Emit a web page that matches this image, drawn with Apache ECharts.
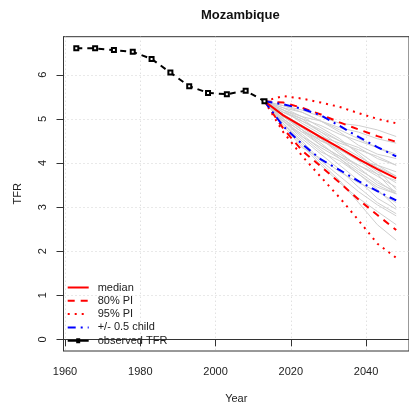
<!DOCTYPE html>
<html><head><meta charset="utf-8">
<script src="https://cdn.jsdelivr.net/npm/echarts@6/dist/echarts.min.js"></script>
<style>html,body{margin:0;padding:0;background:#fff}#c{width:409px;height:409px}</style>
</head><body><div id="c"></div>
<script>
const titleText = 'Mozambique';
const xTicks = [1960, 1980, 2000, 2020, 2040];
const yTicks = [0, 1, 2, 3, 4, 5, 6];
const obsYears = [1963, 1968, 1973, 1978, 1983, 1988, 1993, 1998, 2003, 2008, 2013];
const obsTFR = [6.60, 6.60, 6.56, 6.52, 6.36, 6.05, 5.74, 5.59, 5.56, 5.64, 5.40];
const projYears = [2013, 2018, 2023, 2028, 2033, 2038, 2043, 2048];
const median = [5.40, 5.08, 4.83, 4.58, 4.34, 4.09, 3.86, 3.65];
const lower80 = [5.40, 4.78, 4.28, 3.92, 3.55, 3.17, 2.82, 2.48];
const upper80 = [5.40, 5.37, 5.25, 5.10, 4.92, 4.76, 4.61, 4.48];
const lower95 = [5.40, 4.70, 4.16, 3.68, 3.21, 2.70, 2.17, 1.85];
const upper95 = [5.40, 5.52, 5.46, 5.37, 5.27, 5.13, 5.00, 4.90];
const halfUp = [5.40, 5.33, 5.23, 5.08, 4.84, 4.59, 4.36, 4.15];
const halfLow = [5.40, 4.83, 4.43, 4.08, 3.84, 3.59, 3.36, 3.15];
const trajectories = [
  [5.40, 5.20, 5.05, 4.95, 4.80, 4.70, 4.55, 4.45],
  [5.40, 5.10, 4.75, 4.45, 4.10, 3.80, 3.50, 3.30],
  [5.40, 4.95, 4.55, 4.20, 3.85, 3.45, 3.10, 2.85],
  [5.40, 5.25, 5.15, 4.95, 4.70, 4.40, 4.20, 4.10],
  [5.40, 5.05, 4.80, 4.50, 4.35, 4.05, 3.95, 3.80],
  [5.40, 4.90, 4.40, 3.95, 3.55, 3.20, 2.90, 2.60],
  [5.40, 5.15, 4.95, 4.75, 4.50, 4.25, 3.95, 3.70],
  [5.40, 5.00, 4.70, 4.55, 4.25, 3.90, 3.55, 3.35],
  [5.40, 5.30, 5.20, 5.05, 4.90, 4.85, 4.75, 4.60],
  [5.40, 4.85, 4.35, 4.10, 3.80, 3.55, 3.35, 3.10],
  [5.40, 5.10, 4.85, 4.60, 4.45, 4.30, 4.15, 3.95],
  [5.40, 5.00, 4.60, 4.25, 4.05, 3.75, 3.40, 3.00],
  [5.40, 5.20, 4.90, 4.65, 4.30, 4.10, 3.80, 3.55],
  [5.40, 4.95, 4.65, 4.30, 3.95, 3.60, 3.20, 2.95],
  [5.40, 5.15, 5.00, 4.85, 4.65, 4.50, 4.35, 4.20],
  [5.40, 5.05, 4.75, 4.40, 4.15, 3.95, 3.75, 3.60],
  [5.40, 4.90, 4.50, 4.05, 3.70, 3.35, 3.05, 2.80],
  [5.40, 5.25, 5.05, 4.80, 4.55, 4.20, 3.85, 3.40],
  [5.40, 5.10, 4.85, 4.55, 4.20, 3.95, 3.70, 3.45],
  [5.40, 5.00, 4.70, 4.40, 4.15, 3.85, 3.60, 3.30],
  [5.40, 5.20, 5.00, 4.70, 4.40, 4.15, 3.90, 3.70],
  [5.40, 4.95, 4.60, 4.35, 4.10, 3.75, 3.45, 3.30],
  [5.40, 5.15, 4.95, 4.70, 4.50, 4.35, 4.10, 3.95],
  [5.40, 5.05, 4.75, 4.50, 4.30, 4.05, 3.75, 3.30],
  [5.40, 5.30, 5.15, 4.95, 4.75, 4.55, 4.35, 4.15],
  [5.40, 4.90, 4.45, 4.00, 3.60, 3.10, 2.60, 2.25]
];

const FONT = 'Liberation Sans, Arial, sans-serif';
const pairs = (xs, ys) => xs.map((x, i) => [x, ys[i]]);
const series = [];
trajectories.forEach((t, i) => series.push({
  name: 'traj' + i, type: 'line', data: pairs(projYears, t), symbol: 'none',
  lineStyle: {color: '#cfcfcf', width: 1}, z: 1, silent: true
}));
const mk = (name, ys, color, type, z) => ({
  name, type: 'line', data: pairs(projYears, ys), symbol: 'none', z,
  lineStyle: {color, width: 2, type}, itemStyle: {color}
});
series.push(mk('median', median, '#ff0000', 'solid', 5));
series.push(mk('80% PI', upper80, '#ff0000', [7, 6], 4));
series.push(mk('80% PI', lower80, '#ff0000', [7, 6], 4));
series.push(mk('95% PI', upper95, '#ff0000', [2, 5], 4));
series.push(mk('95% PI', lower95, '#ff0000', [2, 5], 4));
series.push(mk('+/- 0.5 child', halfUp, '#0000ff', [8, 5, 2, 5], 4));
series.push(mk('+/- 0.5 child', halfLow, '#0000ff', [8, 5, 2, 5], 4));
series.push({
  name: 'observed TFR', type: 'line', data: pairs(obsYears, obsTFR), z: 6,
  symbol: 'emptyRect', symbolSize: 4,
  lineStyle: {color: '#000', width: 2, type: [6, 5]},
  itemStyle: {color: '#000', borderColor: '#000', borderWidth: 1.5}
});

const hideSym = {opacity: 0};
const chart = echarts.init(document.getElementById('c'), null, {renderer: 'canvas'});
chart.setOption({
  animation: false,
  textStyle: {fontFamily: FONT},
  title: {text: titleText, left: 196, top: 4,
    textStyle: {fontFamily: FONT, fontSize: 13, fontWeight: 'bold', color: '#111'}},
  grid: {left: 63.5, right: -8.7, top: 36.7, bottom: 58, show: true,
    borderColor: '#333', borderWidth: 1, backgroundColor: 'transparent'},
  legend: {
    data: [
      {name: 'median', itemStyle: hideSym},
      {name: '80% PI', itemStyle: hideSym},
      {name: '95% PI', itemStyle: hideSym},
      {name: '+/- 0.5 child', itemStyle: hideSym},
      {name: 'observed TFR',
       icon: 'path://M0,2.5H21V4.5H0Z M8.5,1H12.5V6H8.5Z',
       itemStyle: {color: '#000', borderWidth: 0}}
    ],
    orient: 'vertical', left: 66.7, top: 282, padding: 0,
    itemWidth: 21, itemHeight: 7, itemGap: 2.3,
    textStyle: {fontFamily: FONT, fontSize: 11, color: '#222', padding: [0, 0, 0, 4]}
  },
  xAxis: {
    type: 'value', min: 1959.6, max: 2051.4,
    name: 'Year', nameLocation: 'middle', nameGap: 42,
    nameTextStyle: {fontFamily: FONT, fontSize: 11, color: '#222'},
    axisLine: {show: true, lineStyle: {color: '#333'}},
    axisTick: {show: true, length: 7, customValues: xTicks, lineStyle: {color: '#333'}},
    axisLabel: {customValues: xTicks, formatter: v => String(v), fontFamily: FONT, fontSize: 11, color: '#222', margin: 15},
    splitLine: {show: true, lineStyle: {color: '#d3d3d3', type: [1, 3], width: 1}}
  },
  yAxis: {
    type: 'value', min: -0.264, max: 6.864,
    name: 'TFR', nameLocation: 'middle', nameGap: 40, nameRotate: 90,
    nameTextStyle: {fontFamily: FONT, fontSize: 11, color: '#222'},
    axisLine: {show: true, lineStyle: {color: '#333'}},
    axisTick: {show: true, length: 7, customValues: yTicks, lineStyle: {color: '#333'}},
    axisLabel: {customValues: yTicks, formatter: v => String(v), rotate: 90, fontFamily: FONT, fontSize: 11, color: '#222', margin: 15},
    splitLine: {show: true, lineStyle: {color: '#d3d3d3', type: [1, 3], width: 1}}
  },
  series
});
</script></body></html>
